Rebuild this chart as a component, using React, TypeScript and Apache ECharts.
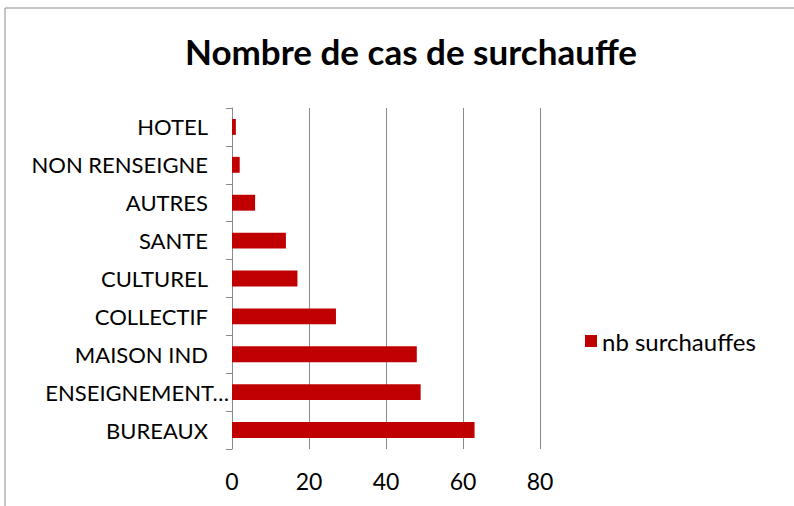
import React, { useEffect, useRef } from "react";
import * as echarts from "echarts";

const categories = [
  "BUREAUX",
  "ENSEIGNEMENT…",
  "MAISON IND",
  "COLLECTIF",
  "CULTUREL",
  "SANTE",
  "AUTRES",
  "NON RENSEIGNE",
  "HOTEL",
];
const values = [63, 49, 48, 27, 17, 14, 6, 2, 1];
const seriesName = "nb surchauffes";
const title = "Nombre de cas de surchauffe";

export default function App() {
  const ref = useRef<HTMLDivElement>(null);
  useEffect(() => {
    if (!ref.current) return;
    const chart = echarts.init(ref.current, null, { renderer: "svg" });
    const font = "Lato, 'Open Sans', sans-serif";
    chart.setOption({
      animation: false,
      backgroundColor: "#fff",
      title: {
        text: title,
        left: 406,
        top: 28,
        textAlign: "center",
        textStyle: { fontFamily: font, fontSize: 35, fontWeight: "bold", color: "#000" },
      },
      legend: {
        left: 580,
        top: 324,
        itemWidth: 12,
        itemHeight: 12,
        itemGap: 8,
        icon: "rect",
        textStyle: { fontFamily: font, fontSize: 24, color: "#000" },
        data: [seriesName],
      },
      graphic: [
        {
          type: "rect",
          shape: { x: 5, y: 8, width: 800, height: 520 },
          style: { fill: "none", stroke: "#8c8c8c", lineWidth: 1 },
          silent: true,
        },
      ],
      grid: { left: 232, top: 108, width: 308, height: 341, containLabel: false },
      xAxis: {
        type: "value",
        min: 0,
        max: 80,
        interval: 20,
        axisLine: { show: false },
        axisTick: { show: false },
        splitLine: { show: true, lineStyle: { color: "#8a8a8a", width: 1 } },
        axisLabel: { fontFamily: font, fontSize: 23, color: "#000", margin: 20 },
      },
      yAxis: {
        type: "category",
        data: categories.map((c, i) =>
          i === 1 ? { value: c, textStyle: { padding: [0, -21, 0, 0] } } : c
        ),
        axisLine: { show: true, lineStyle: { color: "#8a8a8a", width: 1 } },
        axisTick: { show: true, length: 6, lineStyle: { color: "#8a8a8a" } },
        axisLabel: { fontFamily: font, fontSize: 22, color: "#000", margin: 24 },
      },
      series: [
        {
          name: seriesName,
          type: "bar",
          data: values,
          barCategoryGap: "58%",
          itemStyle: { color: "#C00000" },
        },
      ],
    });
    return () => chart.dispose();
  }, []);
  return (
    <div
      ref={ref}
      style={{ position: "absolute", left: 0, top: 0, width: 794, height: 506 }}
    />
  );
}
